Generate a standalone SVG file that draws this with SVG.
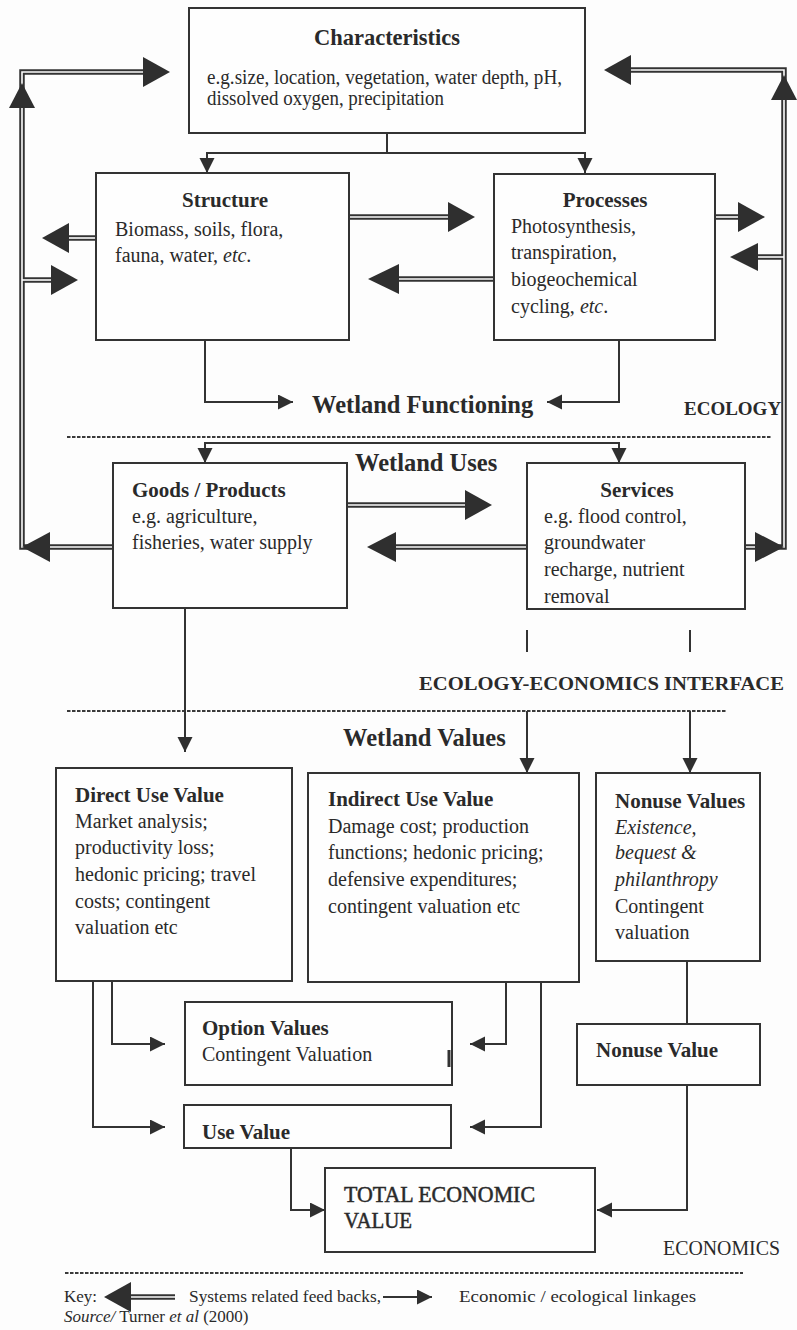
<svg xmlns="http://www.w3.org/2000/svg" width="797" height="1330" viewBox="0 0 797 1330">
<style>
.bg{fill:#fdfdfd}
.box{fill:#fefefe;stroke:#333;stroke-width:2}
.ln{fill:none;stroke:#333;stroke-width:2}
.tick{fill:none;stroke:#333;stroke-width:2}
.dash{fill:none;stroke:#3a3a3a;stroke-width:2.2;stroke-dasharray:3.5 1.5}
.dblo{fill:none;stroke:#333;stroke-width:5.5}
.dbli{fill:none;stroke:#fdfdfd;stroke-width:1.6}
.head{fill:#2f2f2f}
text{font-family:"Liberation Serif","Times New Roman",serif;fill:#2a2a2a;font-size:20px}
.b{font-weight:bold}
.t{font-weight:bold;font-size:21px}
.big{font-weight:bold;font-size:24.5px}
.it{font-style:italic}
.key{font-size:17px}
</style>
<defs>
<marker id="ah" markerUnits="userSpaceOnUse" markerWidth="16" markerHeight="16" refX="15" refY="7.5" orient="auto" viewBox="0 0 16 16">
<path d="M0,0 L15,7.5 L0,15 z" fill="#2f2f2f"/>
</marker>
</defs>
<rect class="bg" x="0" y="0" width="797" height="1330"/>

<g id="dividers">
<line class="dash" x1="67" y1="437" x2="772" y2="437"/>
<line class="dash" x1="67" y1="711" x2="727" y2="711"/>
<line class="dash" x1="65" y1="1273" x2="743" y2="1273"/>
</g>

<g id="connectors">
<path class="ln" d="M387,133 V153"/>
<path class="ln" d="M387,153 H207 V173" marker-end="url(#ah)"/>
<path class="ln" d="M387,153 H585 V173" marker-end="url(#ah)"/>
<path class="ln" d="M205,340 V402 H293" marker-end="url(#ah)"/>
<path class="ln" d="M619,340 V402 H547" marker-end="url(#ah)"/>
<path class="ln" d="M412,443 H205 V463" marker-end="url(#ah)"/>
<path class="ln" d="M412,443 H619 V463" marker-end="url(#ah)"/>
<path class="ln" d="M185,608 V752" marker-end="url(#ah)"/>
<path class="tick" d="M527,630 V652 M690,630 V652"/>
<path class="ln" d="M527,711 V773" marker-end="url(#ah)"/>
<path class="ln" d="M690,711 V773" marker-end="url(#ah)"/>
<path class="ln" d="M112,981 V1044 H165" marker-end="url(#ah)"/>
<path class="ln" d="M93,981 V1127 H165" marker-end="url(#ah)"/>
<path class="ln" d="M506,982 V1044 H470" marker-end="url(#ah)"/>
<path class="ln" d="M541,982 V1127 H470" marker-end="url(#ah)"/>
<path class="ln" d="M687,961 V1024"/>
<path class="ln" d="M687,1085 V1210 H597" marker-end="url(#ah)"/>
<path class="ln" d="M291,1148 V1210 H325" marker-end="url(#ah)"/>
<path class="ln" d="M383,1297 H432" marker-end="url(#ah)"/>

<path class="dblo" d="M113,547 H22 V72 H146"/>
<path class="dblo" d="M745,547 H784 V70 H628"/>
<path class="dblo" d="M96,238 H66"/>
<path class="dblo" d="M22,280 H54"/>
<path class="dblo" d="M349,217 H451"/>
<path class="dblo" d="M494,279 H396"/>
<path class="dblo" d="M715,217 H741"/>
<path class="dblo" d="M784,257 H755"/>
<path class="dblo" d="M347,505 H468"/>
<path class="dblo" d="M527,547 H393"/>
<path class="dblo" d="M175,1297 H128"/>
<path class="dbli" d="M113,547 H22 V72 H146"/>
<path class="dbli" d="M745,547 H784 V70 H628"/>
<path class="dbli" d="M96,238 H66"/>
<path class="dbli" d="M22,280 H54"/>
<path class="dbli" d="M349,217 H451"/>
<path class="dbli" d="M494,279 H396"/>
<path class="dbli" d="M715,217 H741"/>
<path class="dbli" d="M784,257 H755"/>
<path class="dbli" d="M347,505 H468"/>
<path class="dbli" d="M527,547 H393"/>
<path class="dbli" d="M175,1297 H128"/>
<polygon class="head" points="170,72 143,57 143,87"/>
<polygon class="head" points="22,83 9,108 35,108"/>
<polygon class="head" points="22,547 50,532 50,562"/>
<polygon class="head" points="604,70 631,55 631,85"/>
<polygon class="head" points="784,75 771,100 797,100"/>
<polygon class="head" points="784,547 755,532 755,562"/>
<polygon class="head" points="42,238 69,223 69,253"/>
<polygon class="head" points="78,280 51,265 51,295"/>
<polygon class="head" points="475,217 448,202 448,232"/>
<polygon class="head" points="368,279 399,264 399,294"/>
<polygon class="head" points="765,217 738,202 738,232"/>
<polygon class="head" points="730,257 758,243 758,271"/>
<polygon class="head" points="492,505 465,490 465,520"/>
<polygon class="head" points="367,547 396,532 396,562"/>
<polygon class="head" points="104,1297 131,1282 131,1312"/>
</g>

<g id="characteristics">
<rect class="box" x="189" y="8" width="396" height="125"/>
<text class="b" x="387" y="45" text-anchor="middle" style="font-size:22.5px">Characteristics</text>
<text x="207" y="84" textLength="355" lengthAdjust="spacingAndGlyphs">e.g.size, location, vegetation, water depth, pH,</text>
<text x="207" y="105" textLength="237" lengthAdjust="spacingAndGlyphs">dissolved oxygen, precipitation</text>
</g>

<g id="structure">
<rect class="box" x="96" y="173" width="253" height="167"/>
<text class="t" x="225" y="207" text-anchor="middle">Structure</text>
<text x="115" y="236">Biomass, soils, flora,</text>
<text x="115" y="262">fauna, water, <tspan class="it">etc</tspan>.</text>
</g>

<g id="processes">
<rect class="box" x="494" y="174" width="221" height="166"/>
<text class="t" x="605" y="207" text-anchor="middle">Processes</text>
<text x="511" y="233">Photosynthesis,</text>
<text x="511" y="259">transpiration,</text>
<text x="511" y="286">biogeochemical</text>
<text x="511" y="313">cycling, <tspan class="it">etc</tspan>.</text>
</g>

<g id="labels-ecology">
<text class="big" x="312" y="413">Wetland Functioning</text>
<text class="b" x="684" y="415" style="font-size:19px">ECOLOGY</text>
<text class="big" x="355" y="471">Wetland Uses</text>
</g>

<g id="goods">
<rect class="box" x="113" y="463" width="234" height="145"/>
<text class="t" x="132" y="497">Goods / Products</text>
<text x="132" y="523">e.g. agriculture,</text>
<text x="132" y="549">fisheries, water supply</text>
</g>

<g id="services">
<rect class="box" x="527" y="463" width="218" height="146"/>
<text class="t" x="637" y="497" text-anchor="middle">Services</text>
<text x="544" y="523">e.g. flood control,</text>
<text x="544" y="549">groundwater</text>
<text x="544" y="576">recharge, nutrient</text>
<text x="544" y="603">removal</text>
</g>

<g id="labels-interface">
<text class="b" x="419" y="690" textLength="365" lengthAdjust="spacingAndGlyphs" style="font-size:19px">ECOLOGY-ECONOMICS INTERFACE</text>
<text class="big" x="343" y="746">Wetland Values</text>
</g>

<g id="direct-use">
<rect class="box" x="56" y="768" width="236" height="213"/>
<text class="t" x="75" y="802">Direct Use Value</text>
<text x="75" y="828">Market analysis;</text>
<text x="75" y="854">productivity loss;</text>
<text x="75" y="881">hedonic pricing; travel</text>
<text x="75" y="908">costs; contingent</text>
<text x="75" y="934">valuation etc</text>
</g>

<g id="indirect-use">
<rect class="box" x="308" y="773" width="271" height="209"/>
<text class="t" x="328" y="806">Indirect Use Value</text>
<text x="328" y="833">Damage cost; production</text>
<text x="328" y="859">functions; hedonic pricing;</text>
<text x="328" y="886">defensive expenditures;</text>
<text x="328" y="913">contingent valuation etc</text>
</g>

<g id="nonuse-values">
<rect class="box" x="596" y="773" width="164" height="188"/>
<text class="t" x="615" y="808">Nonuse Values</text>
<text class="it" x="615" y="834">Existence,</text>
<text class="it" x="615" y="859">bequest &amp;</text>
<text class="it" x="615" y="886">philanthropy</text>
<text x="615" y="913">Contingent</text>
<text x="615" y="939">valuation</text>
</g>

<g id="option-values">
<rect class="box" x="185" y="1002" width="267" height="83"/>
<line x1="449" y1="1050" x2="449" y2="1067" stroke="#333" stroke-width="3"/>
<text class="t" x="202" y="1035">Option Values</text>
<text x="202" y="1061">Contingent Valuation</text>
</g>

<g id="nonuse-value">
<rect class="box" x="577" y="1024" width="183" height="61"/>
<text class="t" x="596" y="1057">Nonuse Value</text>
</g>

<g id="use-value">
<rect class="box" x="184" y="1105" width="267" height="43"/>
<text class="t" x="202" y="1139" textLength="88" lengthAdjust="spacingAndGlyphs">Use Value</text>
</g>

<g id="total-economic-value">
<rect class="box" x="325" y="1168" width="270" height="84"/>
<text x="344" y="1202" textLength="191" lengthAdjust="spacingAndGlyphs" style="font-size:23px;stroke:#2a2a2a;stroke-width:0.5">TOTAL ECONOMIC</text>
<text x="344" y="1228" textLength="68" lengthAdjust="spacingAndGlyphs" style="font-size:23px;stroke:#2a2a2a;stroke-width:0.5">VALUE</text>
</g>

<g id="labels-economics">
<text x="663" y="1255" textLength="117" lengthAdjust="spacingAndGlyphs">ECONOMICS</text>
</g>

<g id="key">
<text class="key" x="64" y="1302">Key:</text>
<text class="key" x="189" y="1302" textLength="192" lengthAdjust="spacingAndGlyphs">Systems related feed backs,</text>
<text class="key" x="459" y="1302" textLength="237" lengthAdjust="spacingAndGlyphs">Economic / ecological linkages</text>
<text class="key" x="64" y="1322"><tspan class="it">Source/</tspan> Turner <tspan class="it">et al</tspan> (2000)</text>
</g>
</svg>
